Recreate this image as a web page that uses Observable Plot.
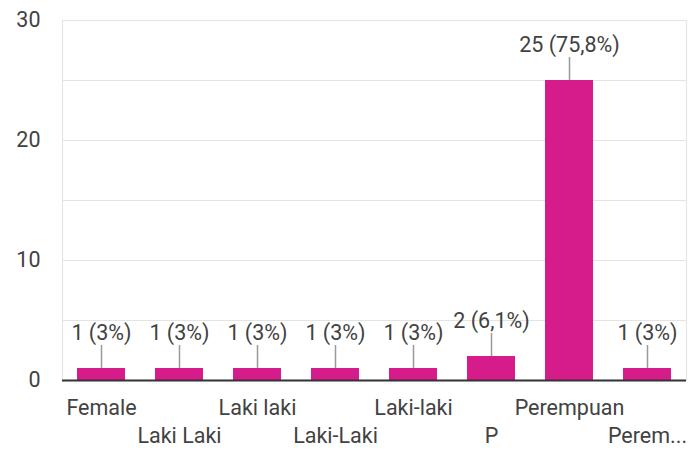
<!DOCTYPE html>
<html>
<head>
<meta charset="utf-8">
<script src="https://cdn.jsdelivr.net/npm/d3@7"></script>
<script src="https://cdn.jsdelivr.net/npm/@observablehq/plot@0.6"></script>
<style>
  html, body { margin: 0; padding: 0; background: #fff; }
  #chart svg { font-family: Roboto, "Noto Sans", sans-serif; }
</style>
</head>
<body>
<div id="chart"></div>
<script>
const categories = ["Female", "Laki Laki", "Laki laki", "Laki-Laki", "Laki-laki", "P", "Perempuan", "Perem..."];
const counts = [1, 1, 1, 1, 1, 2, 25, 1];
const percents = ["3%", "3%", "3%", "3%", "3%", "6,1%", "75,8%", "3%"];
const yTicks = [0, 10, 20, 30];
const gridTicks = [5, 10, 15, 20, 25, 30];

const data = categories.map((c, i) => ({cat: c, count: counts[i], label: `${counts[i]} (${percents[i]})`}));
const evenCats = categories.filter((_, i) => i % 2 === 0);
const oddCats = categories.filter((_, i) => i % 2 === 1);

const barColor = "#d61c8b";
const textColor = "#424242";
const fs = 21.5;

const chart = Plot.plot({
  width: 691,
  height: 450,
  marginLeft: 62,
  marginRight: 5,
  marginTop: 20,
  marginBottom: 70,
  style: {fontFamily: "Roboto, sans-serif", fontSize: fs + "px", color: textColor, background: "#fff"},
  x: {domain: categories, paddingInner: 0.38, paddingOuter: 0.19, axis: null, label: null},
  y: {domain: [0, 30], axis: null, label: null},
  marks: [
    Plot.gridY(gridTicks, {stroke: "#e4e4e4", strokeOpacity: 1, strokeWidth: 1.2}),
    Plot.frame({stroke: "#e6e6e6", strokeWidth: 1.2}),
    Plot.axisY(yTicks, {tickSize: 0, tickPadding: 22, fontSize: fs, fill: textColor, label: null}),
    Plot.axisX(evenCats, {tickSize: 0, tickPadding: 19, fontSize: fs, fill: textColor, label: null}),
    Plot.axisX(oddCats, {tickSize: 0, tickPadding: 47, fontSize: fs, fill: textColor, label: null}),
    Plot.barY(data, {x: "cat", y: "count", fill: barColor}),
    Plot.ruleX(data, {
      x: "cat", y1: "count", y2: "count", stroke: "#999", strokeWidth: 1.5,
      render(index, scales, values, dims, context, next) {
        const g = next(index, scales, values, dims, context);
        d3.select(g).selectAll("line").each(function() {
          const y = +this.getAttribute("y1");
          this.setAttribute("y2", y - 23);
        });
        return g;
      }
    }),
    Plot.text(data, {x: "cat", y: "count", text: "label", dy: -35, fontSize: fs, fill: textColor}),
    Plot.ruleY([0], {stroke: "#333", strokeWidth: 2})
  ]
});
document.getElementById("chart").appendChild(chart);
</script>
</body>
</html>
